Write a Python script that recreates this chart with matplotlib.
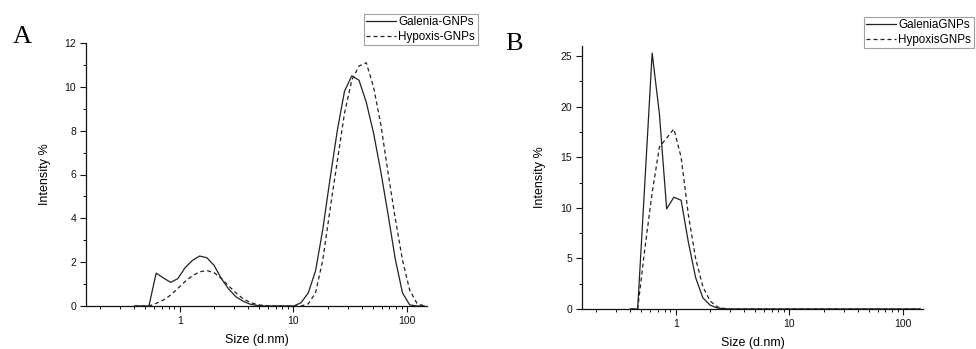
import matplotlib
matplotlib.use("Agg")
import matplotlib.pyplot as plt
from matplotlib.ticker import LogLocator, FixedLocator, NullFormatter, MultipleLocator

# Size bins (d.nm)
size_bins = [0.4, 0.4632, 0.5365, 0.6213, 0.7195, 0.8332, 0.9649, 1.117, 1.294,
             1.499, 1.736, 2.01, 2.328, 2.696, 3.122, 3.615, 4.187, 4.849, 5.615,
             6.503, 7.531, 8.721, 10.1, 11.7, 13.54, 15.69, 18.17, 21.04, 24.36,
             28.21, 32.67, 37.84, 43.82, 50.75, 58.77, 68.06, 78.82, 91.28, 105.7,
             122.4, 141.8]

# Panel A
galenia_a = [0, 0, 0, 1.5, 1.28, 1.08, 1.25, 1.75, 2.08,
             2.28, 2.2, 1.85, 1.25, 0.78, 0.42, 0.22, 0.08, 0.02, 0,
             0, 0, 0, 0.0, 0.15, 0.6, 1.6, 3.5, 5.8, 8.0,
             9.8, 10.5, 10.3, 9.3, 7.9, 6.15, 4.2, 2.15, 0.6, 0.05,
             0, 0]
hypoxis_a = [0, 0, 0, 0.12, 0.27, 0.5, 0.8, 1.12, 1.38,
             1.56, 1.62, 1.52, 1.26, 0.92, 0.6, 0.33, 0.16, 0.06, 0.02,
             0, 0, 0, 0, 0, 0.1, 0.6, 2.1, 4.4, 6.6,
             8.8, 10.3, 10.95, 11.1, 10.0, 8.3, 6.1, 4.0, 2.1, 0.72,
             0.12, 0.0]

# Panel B
galenia_b = [0, 0, 12.6, 25.3, 19.3, 9.9, 11.05, 10.75, 6.6,
             3.1, 1.1, 0.38, 0.1, 0.02, 0, 0, 0, 0, 0,
             0, 0, 0, 0, 0, 0, 0, 0, 0, 0,
             0, 0, 0, 0, 0, 0, 0, 0, 0, 0,
             0, 0]
hypoxis_b = [0, 0, 6.0, 11.5, 16.0, 16.9, 17.8, 15.0, 9.3,
             5.0, 2.2, 0.8, 0.2, 0.05, 0, 0, 0, 0, 0,
             0, 0, 0, 0, 0, 0, 0, 0, 0, 0,
             0, 0, 0, 0, 0, 0, 0, 0, 0, 0,
             0, 0]

labels_a = ["Galenia-GNPs", "Hypoxis-GNPs"]
labels_b = ["GaleniaGNPs", "HypoxisGNPs"]

plt.rcParams['font.family'] = ['Liberation Sans', 'DejaVu Sans']

W, H = 976, 349
fig = plt.figure(figsize=(W / 100, H / 100), dpi=100)

line_color = "#222222"
dash = (0, (3.2, 2.4))


def make_axes(left, right, top, bottom):
    return fig.add_axes([left / W, 1 - bottom / H, (right - left) / W, (bottom - top) / H])


def style(ax, ymax, ymajor, yminor):
    for s in ("top", "right"):
        ax.spines[s].set_visible(False)
    for s in ("left", "bottom"):
        ax.spines[s].set_linewidth(0.9)
        ax.spines[s].set_color("#111111")
    ax.set_xscale("log")
    ax.set_xlim(0.15, 150)
    ax.set_ylim(0, ymax)
    ax.xaxis.set_major_locator(FixedLocator([1, 10, 100]))
    ax.xaxis.set_major_formatter(matplotlib.ticker.FuncFormatter(lambda v, p: f"{v:g}"))
    ax.xaxis.set_minor_locator(LogLocator(base=10, subs=range(2, 10), numticks=20))
    ax.xaxis.set_minor_formatter(NullFormatter())
    ax.yaxis.set_major_locator(MultipleLocator(ymajor))
    ax.yaxis.set_minor_locator(MultipleLocator(yminor))
    ax.tick_params(which="major", direction="out", length=4, width=0.8, labelsize=7.5,
                   pad=3, colors="#111111")
    ax.tick_params(which="minor", direction="out", length=2.5, width=0.7, colors="#111111")
    ax.set_xlabel("Size (d.nm)", fontsize=9, va="center")
    ax.set_ylabel("Intensity %", fontsize=9, va="center")


# Panel A
axA = make_axes(86, 427, 43, 306)
axA.plot(size_bins, galenia_a, color=line_color, lw=0.9, label=labels_a[0])
axA.plot(size_bins, hypoxis_a, color=line_color, lw=0.9, linestyle=dash, label=labels_a[1])
style(axA, 12, 2, 1)
axA.xaxis.set_label_coords(0.5, (306 - 340.5) / 263)
axA.yaxis.set_label_coords((45 - 86) / 341, 0.5)

# Panel B
axB = make_axes(582, 923, 46, 309)
axB.plot(size_bins, galenia_b, color=line_color, lw=0.9, label=labels_b[0])
axB.plot(size_bins, hypoxis_b, color=line_color, lw=0.9, linestyle=dash, label=labels_b[1])
style(axB, 26, 5, 2.5)
axB.xaxis.set_label_coords(0.5, (309 - 343) / 263)
axB.yaxis.set_label_coords((540 - 582) / 341, 0.5)

leg_kw = dict(fontsize=8.4, frameon=True, fancybox=False, edgecolor="#888888",
              handlelength=2.5, handletextpad=0.25, borderpad=0.2, labelspacing=0.2,
              borderaxespad=0, loc="upper left")
legA = fig.legend(handles=axA.get_lines(), labels=labels_a,
                  bbox_to_anchor=(364 / W, 1 - 14 / H), **leg_kw)
legB = fig.legend(handles=axB.get_lines(), labels=labels_b,
                  bbox_to_anchor=(864 / W, 1 - 17 / H), **leg_kw)
for leg in (legA, legB):
    leg.get_frame().set_linewidth(0.8)

fig.text(13 / W, 1 - 43 / H, "A", fontsize=19, family=["Liberation Serif"], va="baseline", ha="left")
fig.text(505 / W, 1 - 50 / H, "B", fontsize=19, family=["Liberation Serif"], va="baseline", ha="left")

fig.savefig("out.png", dpi=100)
